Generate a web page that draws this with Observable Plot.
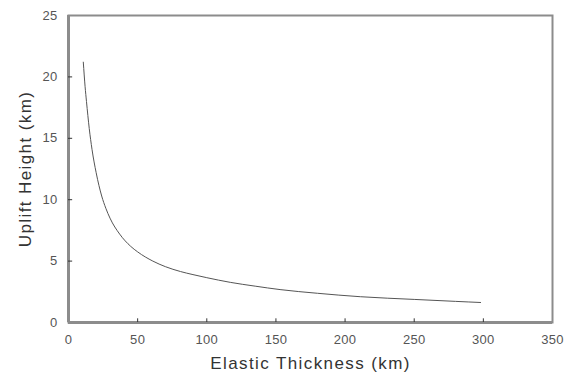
<!DOCTYPE html>
<html><head><meta charset="utf-8">
<script src="https://cdn.jsdelivr.net/npm/d3@7"></script>
<script src="https://cdn.jsdelivr.net/npm/@observablehq/plot@0.6"></script>
<style>body{margin:0;background:#fff;font-family:"Liberation Sans",Arial,sans-serif}</style>
</head><body><div id="chart"></div>
<script>
const thickness = [10.7, 12, 13, 15, 17, 20, 24, 27, 30, 37, 45, 50, 61, 70, 81, 90, 100, 117, 135, 153, 180, 211, 250, 280, 298];
const uplift = [21.2, 19.2, 18.0, 15.8, 14.1, 12.2, 10.3, 9.3, 8.5, 7.2, 6.2, 5.75, 5.0, 4.55, 4.15, 3.9, 3.65, 3.27, 2.96, 2.68, 2.38, 2.1, 1.88, 1.72, 1.63];
const xTicks = [0, 50, 100, 150, 200, 250, 300, 350];
const yTicks = [0, 5, 10, 15, 20, 25];
const data = thickness.map((t, i) => ({t, h: uplift[i]}));

const chart = Plot.plot({
  width: 570, height: 381,
  marginLeft: 68, marginTop: 15, marginRight: 18, marginBottom: 59,
  style: {fontFamily: "'Liberation Sans', Arial, sans-serif", background: "#fff"},
  x: {domain: [0, 350]},
  y: {domain: [0, 25]},
  marks: [
    Plot.frame({stroke: "#8c8c8c", strokeWidth: 2}),
    Plot.ruleX([0], {stroke: "#8c8c8c", strokeWidth: 3}),
    Plot.ruleY([0], {stroke: "#8c8c8c", strokeWidth: 3}),
    Plot.ruleX(xTicks.slice(1, -1), {x: d => d, y1: 0, y2: 0.3, stroke: "#333", strokeWidth: 1}),
    Plot.ruleY(yTicks.slice(1, -1), {y: d => d, x1: 0, x2: 3, stroke: "#333", strokeWidth: 1}),
    Plot.axisX({ticks: xTicks, tickSize: 0, tickPadding: 12, fontSize: 13, fill: "#555", label: "Elastic Thickness (km)", labelAnchor: "center", labelArrow: false, labelOffset: 46}),
    Plot.axisY({ticks: yTicks, tickSize: 0, tickPadding: 11, fontSize: 13, fill: "#555", label: "Uplift Height (km)", labelAnchor: "center", labelArrow: false, labelOffset: 50}),
    Plot.line(data, {x: "t", y: "h", stroke: "#555", strokeWidth: 1, curve: "monotone-x"})
  ]
});
document.getElementById("chart").append(chart);
chart.querySelectorAll("g[aria-label='x-axis label'] text, g[aria-label='y-axis label'] text").forEach(t => {
  t.style.fontSize = "17px"; t.style.letterSpacing = "1.4px"; t.setAttribute("fill", "#333");
});
chart.querySelectorAll("g[aria-label='x-axis tick label'] text, g[aria-label='y-axis tick label'] text").forEach(t => {
  t.style.letterSpacing = "0.3px";
});
</script></body></html>
